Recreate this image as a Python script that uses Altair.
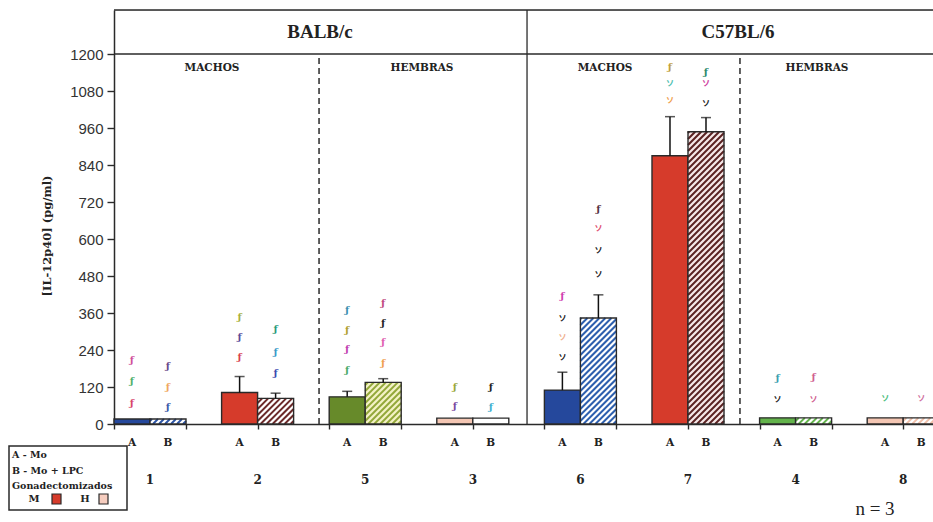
import altair as alt
import pandas as pd

# Groups in plotted order (BALB/c: 1, 2, 5, 3 ; C57BL/6: 6, 7, 4, 8)
groups = ["1", "2", "5", "3", "6", "7", "4", "8"]
mean_a = [16, 102, 88, 19, 110, 870, 20, 20]      # A - Mo
mean_b = [16, 83, 135, 19, 344, 948, 20, 20]      # B - Mo + LPC
err_a = [0, 52, 18, 0, 58, 127, 0, 0]
err_b = [0, 17, 12, 0, 75, 46, 0, 0]
fill_a = ["#25489c", "#d63b2b", "#678a2a", "#f4c6b3", "#25489c", "#d63b2b", "#63b34b", "#f4c6b3"]
stripe_b = ["#2d55a5", "#6b2a2a", "#93a83a", None, "#2d5fae", "#5a2222", "#63b34b", "#f0c0aa"]
back_b = ["#ffffff", "#ffffff", "#f4f2c6", "#ffffff", "#ffffff", "#f6e8e8", "#ffffff", "#ffffff"]

# Significance marks above the bars
sym_group = [0, 0, 0, 0, 0, 0,
             1, 1, 1, 1, 1, 1,
             2, 2, 2, 2, 2, 2, 2, 2,
             3, 3, 3, 3,
             4, 4, 4, 4, 4, 4, 4, 4,
             5, 5, 5, 5, 5, 5,
             6, 6, 6, 6,
             7, 7]
sym_side = ["A", "A", "A", "B", "B", "B",
            "A", "A", "A", "B", "B", "B",
            "A", "A", "A", "A", "B", "B", "B", "B",
            "A", "A", "B", "B",
            "A", "A", "A", "A", "B", "B", "B", "B",
            "A", "A", "A", "B", "B", "B",
            "A", "A", "B", "B",
            "A", "B"]
sym_value = [207, 139, 68, 188, 120, 55,
             346, 282, 217, 307, 233, 165,
             369, 304, 243, 175, 391, 327, 265, 198,
             120, 58, 120, 55,
             414, 340, 278, 213, 699, 634, 560, 482,
             1158, 1103, 1048, 1142, 1103, 1038,
             149, 78, 152, 78,
             81, 81]
sym_glyph = ["ƒ"] * 20 + ["ƒ"] * 4 + \
            ["ƒ", "ソ", "ソ", "ソ", "ƒ", "ソ", "ソ", "ソ"] + \
            ["ƒ", "ソ", "ソ", "ƒ", "ソ", "ソ"] + \
            ["ƒ", "ソ", "ƒ", "ソ"] + \
            ["ソ", "ソ"]
sym_color = ["#d0509a", "#4fb06a", "#d8456a", "#6a4a8a", "#f0a860", "#3a5aa8",
             "#a8b040", "#5a4a9a", "#d84050", "#2a9a7a", "#3a9ac8", "#3a4ab0",
             "#3a90b0", "#b0a030", "#c040b0", "#4aaa6a", "#c04a80", "#222222", "#e060b0", "#f0a050",
             "#9aa83a", "#7a4aa0", "#222222", "#40b0d0",
             "#d040b0", "#222222", "#f0b090", "#222222", "#553344", "#e05070", "#222222", "#222222",
             "#c0a040", "#50c0b0", "#f0a050", "#2a8a6a", "#d040a0", "#222222",
             "#3aa0b0", "#222222", "#d06090", "#d06090",
             "#50c080", "#d070a0"]

# Panel headers (x in group units)
strain_names = ["BALB/c", "C57BL/6"]
strain_pos = [1.58, 5.465]
sex_names = ["MACHOS", "HEMBRAS", "MACHOS", "HEMBRAS"]
sex_pos = [0.576, 2.528, 4.229, 6.199]
dashed_pos = [1.571, 5.483]
solid_pos = [3.504]

# Geometry
W, H = 819, 414
BAR_W = 0.3346
X_MIN, X_MAX = -BAR_W, 7.277
Y_MAX = 1343
SERIF = "Liberation Serif"
WIDE = "DejaVu Serif"
INK = "#2a2a2a"
TXT = "#222222"

xs = alt.Scale(domain=[X_MIN, X_MAX], nice=False, zero=False)
ys = alt.Scale(domain=[0, Y_MAX], nice=False)

px_u = W / (X_MAX - X_MIN)
px_v = H / Y_MAX

# Bar tables
bars_a = pd.DataFrame({
    "x": [i - BAR_W for i in range(8)], "x2": list(range(8)),
    "y": [0] * 8, "y2": mean_a, "fill": fill_a})
bars_b = pd.DataFrame({
    "x": list(range(8)), "x2": [i + BAR_W for i in range(8)],
    "y": [0] * 8, "y2": mean_b, "fill": back_b})

# Diagonal hatching for the B bars, 45 degrees on screen
stripes = []
step = 6.0
for i, (v, c) in enumerate(zip(mean_b, stripe_b)):
    if c is None:
        continue
    bw, bh = BAR_W * px_u, v * px_v
    k = -bw + step / 2
    while k < bh:
        xs0 = max(0.0, -k)
        xe0 = min(bw, bh - k)
        if xe0 > xs0:
            stripes.append({"x": i + xs0 / px_u, "x2": i + xe0 / px_u,
                            "y": (xs0 + k) / px_v, "y2": (xe0 + k) / px_v, "color": c})
        k += step
stripes = pd.DataFrame(stripes)

errs = []
for i in range(8):
    if err_a[i] > 0:
        errs.append({"x": i - BAR_W / 2, "y": mean_a[i], "y2": mean_a[i] + err_a[i]})
    if err_b[i] > 0:
        errs.append({"x": i + BAR_W / 2, "y": mean_b[i], "y2": mean_b[i] + err_b[i]})
errs = pd.DataFrame(errs)

syms = pd.DataFrame({
    "x": [g + (-BAR_W / 2 if s == "A" else BAR_W / 2) for g, s in zip(sym_group, sym_side)],
    "y": sym_value, "t": sym_glyph, "c": sym_color})

ab_labels = pd.DataFrame({
    "x": [i + d for i in range(8) for d in (-BAR_W / 2, BAR_W / 2)],
    "t": ["A", "B"] * 8})
grp_labels = pd.DataFrame({"x": list(range(8)), "t": groups})

x_ticks = sorted({round(i + d, 4) for i in range(8) for d in (-BAR_W, 0, BAR_W) if i + d <= X_MAX})

one = pd.DataFrame({"k": [0]})

base_a = alt.Chart(bars_a).mark_rect(stroke=INK, strokeWidth=1.4).encode(
    x=alt.X("x:Q", scale=xs, axis=alt.Axis(values=x_ticks, labels=False, title=None, grid=False,
                                           tickSize=5, tickColor=INK, tickWidth=1.4,
                                           domainColor=INK, domainWidth=1.5)),
    x2="x2:Q",
    y=alt.Y("y:Q", scale=ys, axis=alt.Axis(values=list(range(0, 1201, 120)), format="d",
                                           title=None, grid=False,
                                           tickSize=7, tickColor=INK, tickWidth=1.4,
                                           domainColor=INK, domainWidth=1.5,
                                           labelFont="Liberation Sans", labelFontSize=15,
                                           labelColor="#333333", labelPadding=4)),
    y2="y2:Q",
    color=alt.Color("fill:N", scale=None))

back = alt.Chart(bars_b).mark_rect(clip=True).encode(
    x="x:Q", x2="x2:Q", y="y:Q", y2="y2:Q", color=alt.Color("fill:N", scale=None))

hatch = alt.Chart(stripes).mark_rule(strokeWidth=2, clip=True).encode(
    x="x:Q", x2="x2:Q", y="y:Q", y2="y2:Q", color=alt.Color("color:N", scale=None))

outline = alt.Chart(bars_b).mark_rect(fillOpacity=0, stroke=INK, strokeWidth=1.4, clip=True).encode(
    x="x:Q", x2="x2:Q", y="y:Q", y2="y2:Q")

err_line = alt.Chart(errs).mark_rule(color="#111111", strokeWidth=1.5).encode(
    x="x:Q", y="y:Q", y2="y2:Q")
err_cap = alt.Chart(errs).mark_tick(color="#111111", orient="horizontal", size=10, thickness=1.5).encode(
    x="x:Q", y="y2:Q")

# Frame: top edge, header separator, strain divider, sex dividers
top_line = alt.Chart(one).mark_rule(color=INK, strokeWidth=1.5).encode(
    x=alt.value(0), x2=alt.value(W), y=alt.value(0))
head_line = alt.Chart(pd.DataFrame({"y": [1200]})).mark_rule(color=INK, strokeWidth=1.5).encode(
    x=alt.value(0), x2=alt.value(W), y="y:Q")
solid = alt.Chart(pd.DataFrame({"x": solid_pos})).mark_rule(color=INK, strokeWidth=1.3).encode(
    x="x:Q", y=alt.value(0), y2=alt.value(H))
dashed = alt.Chart(pd.DataFrame({"x": dashed_pos, "y": [0, 0], "y2": [1200, 1200]})).mark_rule(
    color=INK, strokeWidth=1.5, strokeDash=[6, 4]).encode(x="x:Q", y="y:Q", y2="y2:Q")

strain_txt = alt.Chart(pd.DataFrame({"x": strain_pos, "t": strain_names, "y": [1272, 1272]})).mark_text(
    font=SERIF, fontWeight="bold", fontSize=19, color=TXT, baseline="middle").encode(
    x="x:Q", y="y:Q", text="t:N")
sex_txt = alt.Chart(pd.DataFrame({"x": sex_pos, "t": sex_names, "y": [1155] * 4})).mark_text(
    font=WIDE, fontWeight="bold", fontSize=10.5, color=TXT, baseline="middle").encode(
    x="x:Q", y="y:Q", text="t:N")

sym_plus = alt.Chart(syms[syms.t == "ƒ"]).mark_text(
    font=WIDE, fontWeight="bold", fontSize=10, baseline="middle").encode(
    x="x:Q", y="y:Q", text="t:N", color=alt.Color("c:N", scale=None))
sym_kana = alt.Chart(syms[syms.t == "ソ"]).mark_text(
    font="Noto Sans CJK JP", fontWeight="bold", fontSize=8, baseline="middle").encode(
    x="x:Q", y="y:Q", text="t:N", color=alt.Color("c:N", scale=None))

ab_txt = alt.Chart(ab_labels).mark_text(
    font=WIDE, fontWeight="bold", fontSize=10.5, color=TXT, baseline="middle").encode(
    x="x:Q", y=alt.value(433), text="t:N")
grp_txt = alt.Chart(grp_labels).mark_text(
    font=WIDE, fontWeight="bold", fontSize=12, color=TXT, baseline="middle").encode(
    x="x:Q", y=alt.value(470), text="t:N")

y_title = alt.Chart(one).mark_text(
    text="[IL-12p40] (pg/ml)", angle=270, font=WIDE, fontWeight="bold", fontSize=11.5,
    color=TXT, baseline="middle").encode(x=alt.value(-66), y=alt.value(226))

n_txt = alt.Chart(one).mark_text(
    text="n = 3", font=SERIF, fontSize=19, color=TXT, baseline="middle").encode(
    x=alt.value(761), y=alt.value(499))

# Legend box in the lower-left corner
leg_box = alt.Chart(one).mark_rect(fill="white", stroke=INK, strokeWidth=1.5).encode(
    x=alt.value(-105), x2=alt.value(13), y=alt.value(436), y2=alt.value(500))
leg_lines = []
for txt, yy in [("A - Mo", 445), ("B - Mo + LPC", 461), ("Gonadectomizados", 476)]:
    leg_lines.append(alt.Chart(one).mark_text(
        text=txt, font=WIDE, fontWeight="bold", fontSize=9.5, color=TXT,
        align="left", baseline="middle").encode(x=alt.value(-102), y=alt.value(yy)))
for txt, xx in [("M", -80), ("H", -29)]:
    leg_lines.append(alt.Chart(one).mark_text(
        text=txt, font=WIDE, fontWeight="bold", fontSize=10, color=TXT,
        baseline="middle").encode(x=alt.value(xx), y=alt.value(489)))
leg_m = alt.Chart(one).mark_rect(fill="#d63b2b", stroke=INK, strokeWidth=1.2).encode(
    x=alt.value(-62), x2=alt.value(-53), y=alt.value(484), y2=alt.value(494))
leg_h = alt.Chart(one).mark_rect(fill="#f6cdbf", stroke=INK, strokeWidth=1.2).encode(
    x=alt.value(-15), x2=alt.value(-6), y=alt.value(484), y2=alt.value(494))

chart = alt.layer(
    base_a, back, hatch, outline, err_line, err_cap,
    top_line, head_line, solid, dashed, strain_txt, sex_txt,
    sym_plus, sym_kana, ab_txt, grp_txt, y_title, n_txt,
    leg_box, *leg_lines, leg_m, leg_h
).properties(
    width=W, height=H, autosize="none",
    padding={"left": 114, "top": 10, "right": 0, "bottom": 98}
).configure_view(stroke=None).configure(background="white")

chart.save("out.html", embed_options={"renderer": "svg", "actions": False})
